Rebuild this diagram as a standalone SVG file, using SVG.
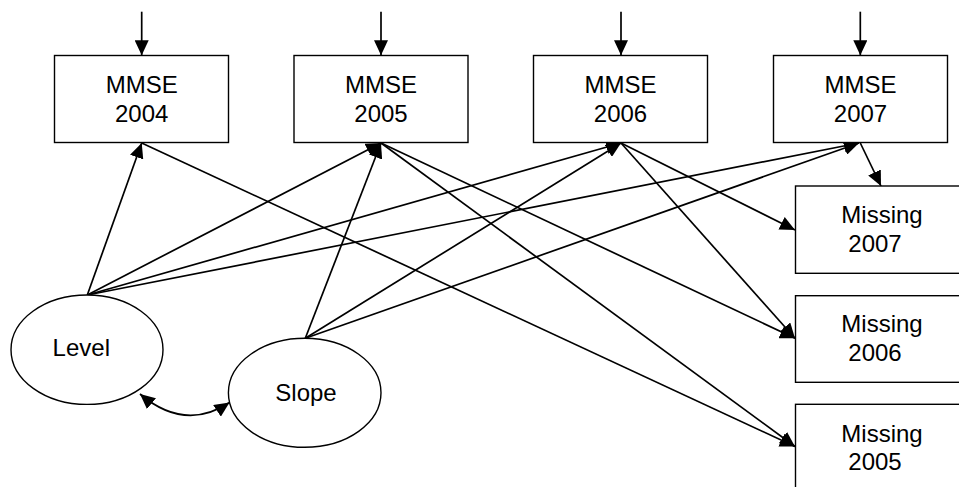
<svg xmlns="http://www.w3.org/2000/svg" width="959" height="487" viewBox="0 0 959 487">
<style>
.box{fill:#fff;stroke:#000;stroke-width:1.4}
.t{font-family:"Liberation Sans",Arial,sans-serif;font-size:24px;fill:#000;text-anchor:middle}
.c{fill:none;stroke:#000;stroke-width:1.7}
</style>
<defs>
<marker id="ah" markerUnits="userSpaceOnUse" markerWidth="15" markerHeight="14" refX="15" refY="7" orient="auto-start-reverse">
<path d="M0,0 L15,7 L0,14 z" fill="#000"/>
</marker>
</defs>
<rect x="0" y="0" width="959" height="487" fill="#fff"/>
<g id="connectors">
<line class="c" x1="141.7" y1="11.7" x2="141.7" y2="55.3" marker-end="url(#ah)"/>
<line class="c" x1="381" y1="11.7" x2="381" y2="55.3" marker-end="url(#ah)"/>
<line class="c" x1="621" y1="11.7" x2="621" y2="55.3" marker-end="url(#ah)"/>
<line class="c" x1="860.3" y1="11.7" x2="860.3" y2="55.3" marker-end="url(#ah)"/>
<line class="c" x1="87.3" y1="295" x2="141.7" y2="143" marker-end="url(#ah)"/>
<line class="c" x1="87.3" y1="295" x2="381" y2="143" marker-end="url(#ah)"/>
<line class="c" x1="87.3" y1="295" x2="621" y2="143" marker-end="url(#ah)"/>
<line class="c" x1="87.3" y1="295" x2="859" y2="143" marker-end="url(#ah)"/>
<line class="c" x1="305.3" y1="338.3" x2="381" y2="143" marker-end="url(#ah)"/>
<line class="c" x1="305.3" y1="338.3" x2="621" y2="143" marker-end="url(#ah)"/>
<line class="c" x1="305.3" y1="338.3" x2="859" y2="143" marker-end="url(#ah)"/>
<line class="c" x1="141.7" y1="143" x2="795" y2="446.5" marker-end="url(#ah)"/>
<line class="c" x1="381" y1="143" x2="795" y2="446.5" marker-end="url(#ah)"/>
<line class="c" x1="381" y1="143" x2="795" y2="338.3" marker-end="url(#ah)"/>
<line class="c" x1="621" y1="143" x2="795" y2="338.3" marker-end="url(#ah)"/>
<line class="c" x1="621" y1="143" x2="795" y2="230" marker-end="url(#ah)"/>
<line class="c" x1="860.3" y1="143" x2="881" y2="186" marker-end="url(#ah)"/>
<path class="c" d="M140,394 Q185,432 229.5,402.5" marker-start="url(#ah)" marker-end="url(#ah)"/>
</g>
<g id="mmse2004"><rect class="box" x="54.5" y="55.5" width="174" height="87"/><text class="t" x="141.7" y="92.7">MMSE</text><text class="t" x="141.7" y="121.7">2004</text></g>
<g id="mmse2005"><rect class="box" x="294" y="55.5" width="174" height="87"/><text class="t" x="381" y="92.7">MMSE</text><text class="t" x="381" y="121.7">2005</text></g>
<g id="mmse2006"><rect class="box" x="533.5" y="55.5" width="174" height="87"/><text class="t" x="620.5" y="92.7">MMSE</text><text class="t" x="620.5" y="121.7">2006</text></g>
<g id="mmse2007"><rect class="box" x="773.5" y="55.5" width="174" height="87"/><text class="t" x="860.5" y="92.7">MMSE</text><text class="t" x="860.5" y="121.7">2007</text></g>
<g id="missing2007"><rect class="box" x="795.5" y="186" width="174" height="87.3"/><text class="t" x="882" y="223.3">Missing</text><text class="t" x="875" y="251.7">2007</text></g>
<g id="missing2006"><rect class="box" x="795.5" y="295.7" width="174" height="86.6"/><text class="t" x="882" y="332">Missing</text><text class="t" x="875" y="360.5">2006</text></g>
<g id="missing2005"><rect class="box" x="795.5" y="404.3" width="174" height="87"/><text class="t" x="882" y="441.7">Missing</text><text class="t" x="875" y="469.5">2005</text></g>
<g id="level"><ellipse class="box" cx="87" cy="349.7" rx="76" ry="54.7"/><text class="t" x="81.3" y="356">Level</text></g>
<g id="slope"><ellipse class="box" cx="304.7" cy="392.8" rx="76.3" ry="54.5"/><text class="t" x="306" y="401">Slope</text></g>
</svg>
